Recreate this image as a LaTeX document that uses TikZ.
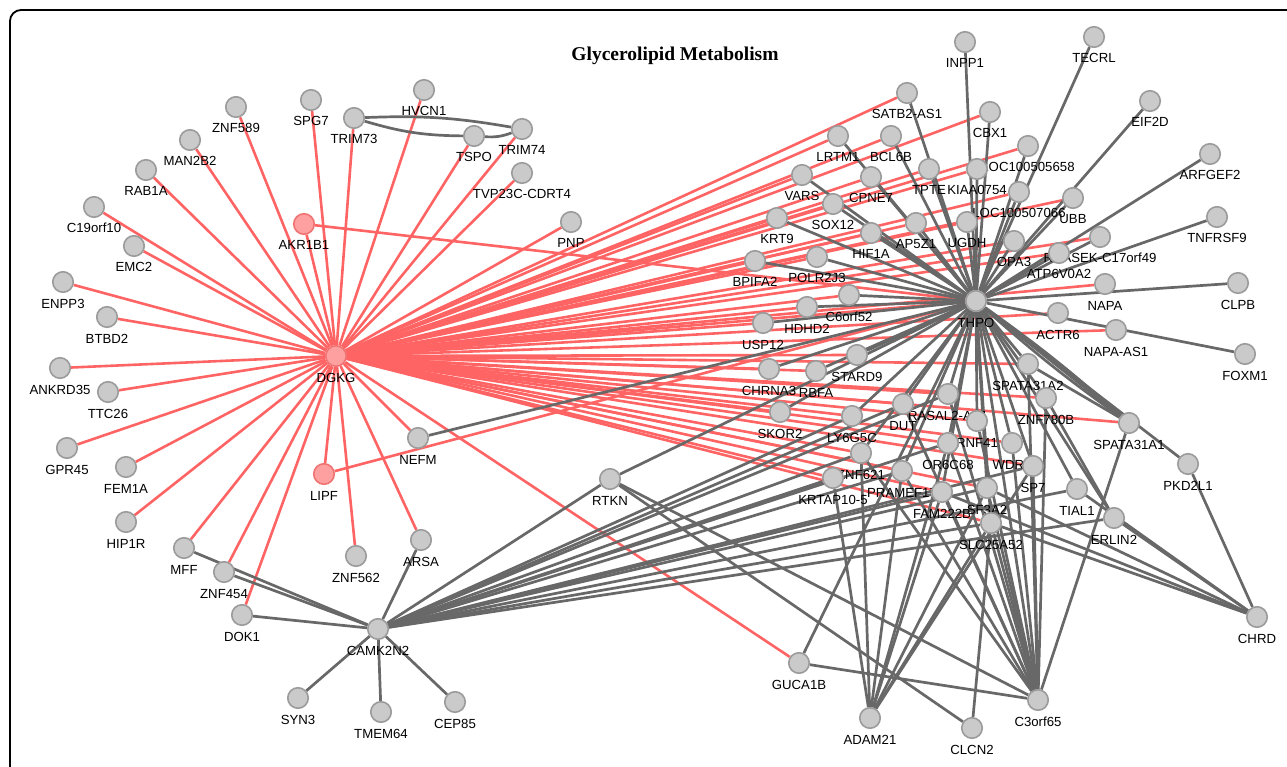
\documentclass[tikz,border=0pt]{standalone}
\usepackage{fontspec}
\setmainfont{Liberation Sans}
\newfontfamily\titlefont{Liberation Serif}
\pgfdeclarelayer{edges}
\pgfdeclarelayer{labels}
\pgfsetlayers{edges,labels,main}
\definecolor{redE}{RGB}{255,100,100}
\definecolor{grayE}{RGB}{104,104,104}
\definecolor{nfill}{RGB}{202,202,202}
\definecolor{nborder}{RGB}{155,155,155}
\definecolor{pfill}{RGB}{255,160,160}
\definecolor{pborder}{RGB}{240,115,115}
\tikzset{
  gn/.style={circle,draw=nborder,fill=nfill,line width=1.6pt,minimum size=20.5pt,inner sep=0pt},
  pn/.style={gn,draw=pborder,fill=pfill},
  lab/.style={anchor=base,font=\fontsize{13.2}{13}\selectfont,inner sep=0pt},
  rede/.style={draw=redE,line width=2.6pt},
  graye/.style={draw=grayE,line width=2.7pt},
}
\newcommand\mkn[5][gn]{%
  \node[#1] (#2) at (#3,#4) {};
  \begin{pgfonlayer}{labels}\path (#2.center) ++(0,26) node[lab] {#5};\end{pgfonlayer}}
\begin{document}
\begin{tikzpicture}[x=1pt,y=-1pt]
\useasboundingbox (0,0) rectangle (1287,767);
\draw[line width=1.8pt,rounded corners=11pt] (10,767) -- (10,10) -- (1287,10);
\node[anchor=base,font=\titlefont\bfseries\fontsize{19.5}{21}\selectfont] (title) at (675,61) {Glycerolipid Metabolism};
% left cluster
\mkn[pn]{DGKG}{336}{356}{DGKG}
\mkn[pn]{AKR1B1}{304}{224}{AKR1B1}
\mkn[pn]{LIPF}{324}{474}{LIPF}
\mkn{ZNF589}{236}{107}{ZNF589}
\mkn{SPG7}{311}{100}{SPG7}
\mkn{TRIM73}{354}{118}{TRIM73}
\mkn{HVCN1}{424}{90}{HVCN1}
\mkn{TSPO}{474}{136}{TSPO}
\mkn{TRIM74}{522}{129}{TRIM74}
\mkn{TVP23C}{522}{173}{TVP23C-CDRT4}
\mkn{PNP}{571}{222}{PNP}
\mkn{MAN2B2}{190}{140}{MAN2B2}
\mkn{RAB1A}{146}{170}{RAB1A}
\mkn{C19orf10}{94}{207}{C19orf10}
\mkn{EMC2}{134}{246}{EMC2}
\mkn{ENPP3}{63}{282}{ENPP3}
\mkn{BTBD2}{107}{317}{BTBD2}
\mkn{ANKRD35}{60}{368}{ANKRD35}
\mkn{TTC26}{108}{392}{TTC26}
\mkn{GPR45}{67}{448}{GPR45}
\mkn{FEM1A}{126}{467}{FEM1A}
\mkn{HIP1R}{126}{522}{HIP1R}
\mkn{MFF}{184}{548}{MFF}
\mkn{ZNF454}{224}{572}{ZNF454}
\mkn{DOK1}{242}{615}{DOK1}
\mkn{ZNF562}{356}{556}{ZNF562}
\mkn{ARSA}{421}{540}{ARSA}
\mkn{NEFM}{418}{438}{NEFM}
\mkn{CAMK2N2}{378}{629}{CAMK2N2}
\mkn{SYN3}{298}{698}{SYN3}
\mkn{TMEM64}{381}{712}{TMEM64}
\mkn{CEP85}{455}{702}{CEP85}
\mkn{RTKN}{610}{479}{RTKN}
\mkn{GUCA1B}{799}{663}{GUCA1B}
% right cluster
\mkn{THPO}{976}{301}{THPO}
\mkn{INPP1}{965}{42}{INPP1}
\mkn{TECRL}{1094}{37}{TECRL}
\mkn{SATB2AS1}{907}{93}{SATB2-AS1}
\mkn{CBX1}{990}{112}{CBX1}
\mkn{EIF2D}{1150}{101}{EIF2D}
\mkn{BCL6B}{891}{136}{BCL6B}
\mkn{LOCa}{1028}{146}{LOC100505658}
\mkn{LRTM1}{838}{136}{LRTM1}
\mkn{ARFGEF2}{1210}{154}{ARFGEF2}
\mkn{VARS}{802}{175}{VARS}
\mkn{CPNE7}{871}{177}{CPNE7}
\mkn{TPTE}{929}{169}{TPTE}
\mkn{KIAA0754}{977}{169}{KIAA0754}
\mkn{TNFRSF9}{1217}{217}{TNFRSF9}
\mkn{SOX12}{833}{204}{SOX12}
\mkn{KRT9}{777}{218}{KRT9}
\mkn{HIF1A}{871}{233}{HIF1A}
\mkn{AP5Z1}{916}{223}{AP5Z1}
\mkn{UGDH}{967}{222}{UGDH}
\mkn{OPA3}{1014}{241}{OPA3}
\mkn{RNASEK}{1100}{237}{RNASEK-C17orf49}
\mkn{LOCb}{1019}{192}{LOC100507066}
\mkn{UBB}{1073}{198}{UBB}
\mkn{ATP6V0A2}{1059}{253}{ATP6V0A2}
\mkn{NAPA}{1105}{284}{NAPA}
\mkn{CLPB}{1238}{283}{CLPB}
\mkn{ACTR6}{1058}{313}{ACTR6}
\mkn{NAPAAS1}{1116}{330}{NAPA-AS1}
\mkn{FOXM1}{1245}{354}{FOXM1}
\mkn{BPIFA2}{755}{261}{BPIFA2}
\mkn{POLR2J3}{817}{257}{POLR2J3}
\mkn{C6orf52}{849}{295}{C6orf52}
\mkn{HDHD2}{807}{307}{HDHD2}
\mkn{USP12}{763}{323}{USP12}
\mkn{STARD9}{857}{355}{STARD9}
\mkn{CHRNA3}{769}{369}{CHRNA3}
\mkn{RBFA}{816}{371}{RBFA}
\mkn{SKOR2}{780}{412}{SKOR2}
\mkn{LY6G5C}{852}{416}{LY6G5C}
\mkn{SPATA31A2}{1028}{364}{SPATA31A2}
\mkn{ZNF780B}{1046}{398}{ZNF780B}
\mkn{SPATA31A1}{1129}{423}{SPATA31A1}
\mkn{PKD2L1}{1188}{464}{PKD2L1}
\mkn{RASAL2AS1}{948}{394}{RASAL2-AS1}
\mkn{RNF41}{977}{421}{RNF41}
\mkn{WDR5}{1012}{443}{WDR5}
\mkn{OR6C68}{948}{443}{OR6C68}
\mkn{DUT}{903}{404}{DUT}
\mkn{ZNF621}{861}{453}{ZNF621}
\mkn{PRAMEF17}{902}{471}{PRAMEF17}
\mkn{KRTAP105}{833}{478}{KRTAP10-5}
\mkn{SP7}{1033}{466}{SP7}
\mkn{TIAL1}{1077}{489}{TIAL1}
\mkn{SF3A2}{987}{488}{SF3A2}
\mkn{FAM222B}{942}{492}{FAM222B}
\mkn{SLC25A52}{991}{523}{SLC25A52}
\mkn{ERLIN2}{1114}{518}{ERLIN2}
\mkn{CHRD}{1257}{617}{CHRD}
\mkn{C3orf65}{1038}{700}{C3orf65}
\mkn{CLCN2}{972}{728}{CLCN2}
\mkn{ADAM21}{870}{718}{ADAM21}
\begin{pgfonlayer}{edges}
\foreach \t in {AKR1B1,LIPF,ZNF589,SPG7,TRIM73,HVCN1,TSPO,TRIM74,TVP23C,PNP,MAN2B2,RAB1A,C19orf10,EMC2,ENPP3,BTBD2,ANKRD35,TTC26,GPR45,FEM1A,HIP1R,MFF,ZNF454,DOK1,ZNF562,ARSA,NEFM,GUCA1B,SATB2AS1,CBX1,LOCa,LRTM1,BCL6B,VARS,CPNE7,TPTE,KIAA0754,LOCb,UBB,SOX12,KRT9,HIF1A,AP5Z1,UGDH,OPA3,RNASEK,ATP6V0A2,BPIFA2,POLR2J3,C6orf52,HDHD2,USP12,THPO,NAPA,ACTR6,NAPAAS1,STARD9,CHRNA3,RBFA,SPATA31A2,ZNF780B,SPATA31A1,SKOR2,LY6G5C,DUT,RASAL2AS1,RNF41,OR6C68,WDR5,SP7,ZNF621,PRAMEF17,KRTAP105,FAM222B,SF3A2,SLC25A52}
  \draw[rede] (DGKG) -- (\t);
\draw[rede] (AKR1B1) -- (THPO);
\draw[rede] (LIPF) -- (THPO);
\foreach \t in {INPP1,TECRL,EIF2D,ARFGEF2,TNFRSF9,CLPB,FOXM1,PKD2L1,SATB2AS1,CBX1,BCL6B,LRTM1,VARS,CPNE7,TPTE,KIAA0754,LOCa,LOCb,UBB,SOX12,KRT9,HIF1A,AP5Z1,UGDH,OPA3,RNASEK,ATP6V0A2,BPIFA2,POLR2J3,C6orf52,HDHD2,USP12,CHRNA3,STARD9,RBFA,SKOR2,NEFM,RTKN,LY6G5C,DUT,RASAL2AS1,RNF41,OR6C68,WDR5,SP7,ZNF621,PRAMEF17,FAM222B,SF3A2,SLC25A52,TIAL1,ZNF780B,SPATA31A2,SPATA31A1,C3orf65,GUCA1B,ERLIN2}
  \draw[graye] (THPO) -- (\t);
\draw[graye] (THPO) to[bend left=3] (SPATA31A1);
\draw[graye] (THPO) to[bend right=3] (SPATA31A1);
\draw[graye] (TRIM73) to[bend left=6] (TRIM74);
\draw[graye] (TRIM73) to[bend right=8] (TSPO);
\draw[graye] (TSPO) to[bend right=12] (TRIM74);
\foreach \t in {MFF,ZNF454,DOK1,ARSA,SYN3,TMEM64,CEP85,RTKN,KRTAP105,ZNF621,PRAMEF17,FAM222B,SF3A2,SLC25A52,SP7,TIAL1,ERLIN2,LY6G5C,DUT,OR6C68,RASAL2AS1}
  \draw[graye] (CAMK2N2) -- (\t);
\foreach \t in {SLC25A52,SF3A2,SP7,WDR5,RNF41,OR6C68,RASAL2AS1,ZNF780B,SPATA31A2,SPATA31A1,DUT,FAM222B,PRAMEF17,RTKN,GUCA1B,ZNF621}
  \draw[graye] (C3orf65) -- (\t);
\foreach \t in {KRTAP105,ZNF621,PRAMEF17,FAM222B,SF3A2,SLC25A52,SP7,OR6C68}
  \draw[graye] (ADAM21) -- (\t);
\foreach \t in {PKD2L1,TIAL1,ERLIN2,SLC25A52,SF3A2,FAM222B}
  \draw[graye] (CHRD) -- (\t);
\draw[graye] (CLCN2) -- (SLC25A52);
\draw[graye] (CLCN2) -- (RTKN);
\draw[graye] (ZNF780B) -- (ERLIN2);
\draw[graye] (SPATA31A2) -- (SPATA31A1);
\end{pgfonlayer}
\end{tikzpicture}
\end{document}
